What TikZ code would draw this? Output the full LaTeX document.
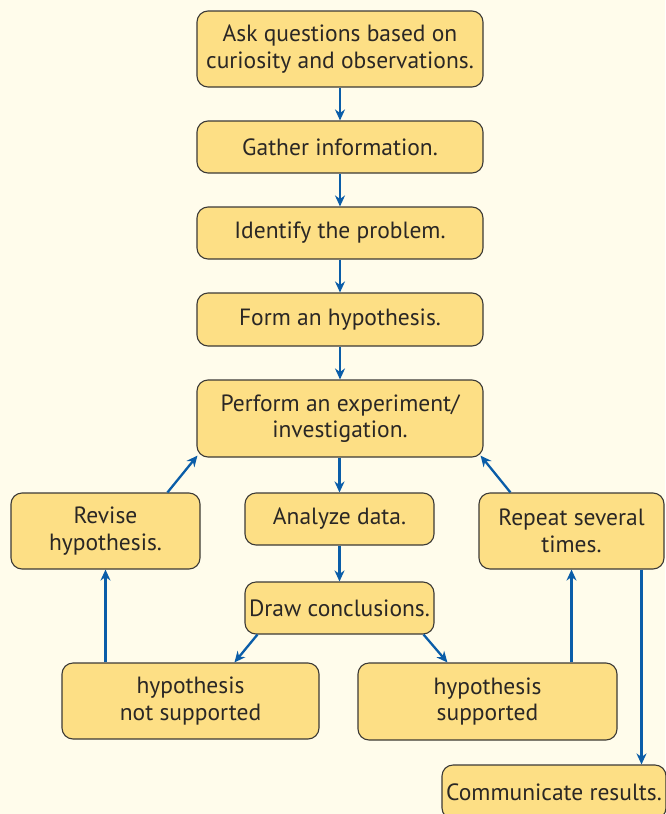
\documentclass[tikz,border=0pt]{standalone}
\usepackage{fontspec}
\setmainfont{PT Sans}
\usetikzlibrary{arrows.meta}
\definecolor{bg}{HTML}{FFFCEB}
\definecolor{boxfill}{HTML}{FDDF85}
\definecolor{boxline}{HTML}{3C3A36}
\definecolor{arrowblue}{HTML}{0A5DA8}
\definecolor{txt}{HTML}{2A2725}
\begin{document}
\begin{tikzpicture}[x=1pt,y=-1pt,
  box/.style={draw=boxline, fill=boxfill, line width=1.1pt, rounded corners=11pt,
    align=center, text=txt, font=\fontsize{23.5}{26.5}\selectfont, inner sep=0pt},
  arr/.style={draw=arrowblue, line width=2.3pt, -{Stealth[length=11pt,width=10pt]}}]
\fill[bg] (0,0) rectangle (665,814);
\useasboundingbox (0,0) rectangle (665,814);
\node[box, minimum width=286pt, minimum height=76pt] (ask) at (340,49) {Ask questions based on\\curiosity and observations.};
\node[box, minimum width=286pt, minimum height=52pt] (gather) at (340,147) {Gather information.};
\node[box, minimum width=286pt, minimum height=52pt] (identify) at (340,233) {Identify the problem.};
\node[box, minimum width=286pt, minimum height=53pt] (form) at (340,319.5) {Form an hypothesis.};
\node[box, minimum width=286pt, minimum height=77pt] (perform) at (340,418.5) {Perform an experiment/\\investigation.};
\node[box, minimum width=189pt, minimum height=52pt] (analyze) at (339.5,519) {Analyze data.};
\node[box, minimum width=189pt, minimum height=76pt] (revise) at (105.5,531) {Revise\\hypothesis.};
\node[box, minimum width=185pt, minimum height=76pt] (repeat) at (571.5,531) {Repeat several\\times.};
\node[box, minimum width=189pt, minimum height=52pt] (conclude) at (339.5,608) {Draw conclusions.};
\node[box, minimum width=257pt, minimum height=76pt] (ns) at (190.5,701) {hypothesis\\not supported};
\node[box, minimum width=259pt, minimum height=77pt] (sup) at (487.5,701.5) {hypothesis\\supported};
\node[box, minimum width=224pt, minimum height=54pt] (comm) at (554,792) {Communicate results.};
\draw[arr] (ask) -- (gather);
\draw[arr] (gather) -- (identify);
\draw[arr] (identify) -- (form);
\draw[arr] (form) -- (perform);
\draw[arr] (perform.south -| analyze) -- (analyze);
\draw[arr] (analyze) -- (conclude);
\draw[arr] ([xshift=157pt]revise.north west) -- ([xshift=1pt,yshift=2pt]perform.south west);
\draw[arr] ([xshift=32pt]repeat.north west) -- ([xshift=-3pt,yshift=2pt]perform.south east);
\draw[arr] ([xshift=13pt]conclude.south west) -- ([xshift=173pt]ns.north west);
\draw[arr] ([xshift=-11pt]conclude.south east) -- ([xshift=90pt]sup.north west);
\draw[arr] (revise.south |- ns.north) -- (revise.south);
\draw[arr] (repeat.south |- sup.north) -- (repeat.south);
\draw[arr] ([xshift=70pt]repeat.south) -- ([xshift=70pt]repeat.south |- comm.north);
\end{tikzpicture}
\end{document}
